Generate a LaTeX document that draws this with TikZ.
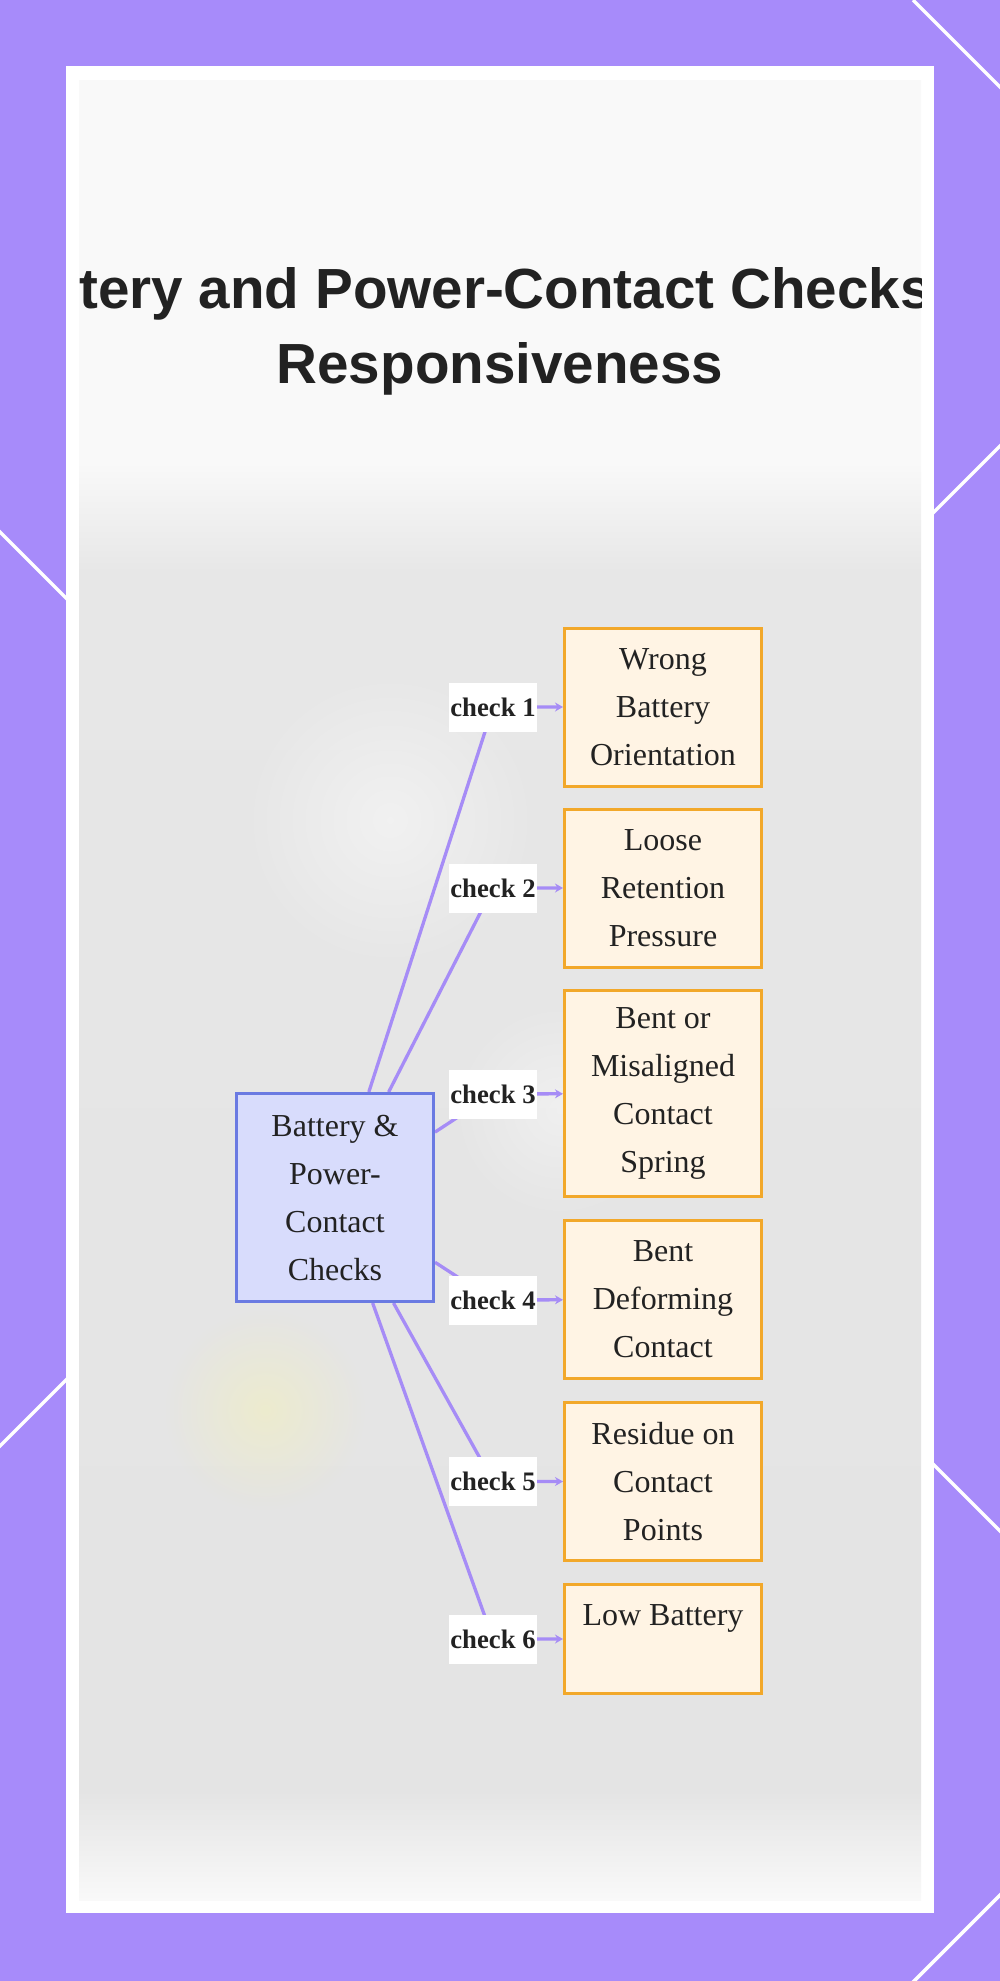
\documentclass[tikz,border=0pt]{standalone}
\usepackage{fontspec}
\setmainfont{Liberation Serif}
\newfontfamily\titlefont{Liberation Sans}
\usetikzlibrary{arrows.meta,positioning,calc,fadings}

\definecolor{frameviolet}{RGB}{167,139,250}
\definecolor{linkviolet}{RGB}{166,140,246}
\definecolor{hubfill}{RGB}{216,220,252}
\definecolor{hubedge}{RGB}{106,122,226}
\definecolor{causefill}{RGB}{255,244,228}
\definecolor{causeedge}{RGB}{242,168,42}
\definecolor{inktext}{RGB}{34,34,34}
\definecolor{fadetop}{RGB}{249,249,249}
\definecolor{fademid}{RGB}{231,231,231}
\definecolor{fadelow}{RGB}{228,228,228}

\pgfdeclareverticalshading{panelfade}{100bp}{color(0bp)=(fadetop); color(25bp)=(fadetop);
  color(28bp)=(fadelow); color(32bp)=(fadelow); color(61.5bp)=(fademid); color(64.5bp)=(fadetop);
  color(75bp)=(fadetop); color(100bp)=(fadetop)}
\tikzfading[name=softblob, inner color=transparent!0, outer color=transparent!100]

\pgfdeclarelayer{panel}
\pgfdeclarelayer{links}
\pgfsetlayers{panel,links,main}

\begin{document}
\begin{tikzpicture}[x=1pt,y=-1pt,
    cause/.style={draw=causeedge, line width=3pt, fill=causefill, text=inktext,
      minimum width=197pt, align=center, inner sep=0pt,
      font=\fontsize{32}{48}\selectfont},
    hub/.style={cause, draw=hubedge, fill=hubfill},
    checktag/.style={fill=white, text=inktext, minimum width=88pt, minimum height=49pt,
      inner sep=0pt, font=\bfseries\fontsize{26.7}{32}\selectfont},
    link/.style={draw=linkviolet, line width=3.3pt, -{Stealth[length=8pt,width=9pt]}},
    corner/.style={draw=white, line width=3.5pt},
    heading/.style={text=inktext, inner sep=0pt, font=\titlefont\bfseries\fontsize{56.6}{75}\selectfont}]
  \useasboundingbox (0,0) rectangle (1000,1981);

  % frame and panel
  \begin{pgfonlayer}{panel}
    \fill[frameviolet] (0,0) rectangle (1000,1981);
    \draw[corner] (913,0) -- (1002,89);
    \draw[corner] (1002,444) -- (900,546);
    \draw[corner] (-2,530) -- (100,632);
    \draw[corner] (100,1346) -- (-2,1448);
    \draw[corner] (900,1431) -- (1002,1533);
    \draw[corner] (1002,1893) -- (912,1983);
    \fill[white] (66,66) rectangle (934,1913);
    \shade[shading=panelfade] (79,80) rectangle (921,1900);
    \fill[yellow!40, opacity=0.3, path fading=softblob] (265,1410) circle (100);
    \fill[white, opacity=0.45, path fading=softblob] (390,820) circle (150);
    \fill[white, opacity=0.4, path fading=softblob] (560,1110) circle (110);
  \end{pgfonlayer}

  % title
  \begin{scope}
    \clip (79,80) rectangle (921,1900);
    \node[heading, anchor=base east] (headA) at (932,308) {Battery and Power-Contact Checks};
    \node[heading, anchor=base] (headB) at (500,383) {Responsiveness};
  \end{scope}

  % hub and causes
  \node[hub, minimum height=208pt] (hub) at (335,1197.5) {Battery \&\\Power-\\Contact\\Checks};

  \node[cause, minimum height=158pt] (wrong) at (663,707) {Wrong\\Battery\\Orientation};
  \node[cause, minimum height=158pt] (loose) at (663,888) {Loose\\Retention\\Pressure};
  \node[cause, minimum height=206pt] (bent) at (663,1093.5) {Bent or\\Misaligned\\Contact\\Spring};
  \node[cause, minimum height=158pt] (deform) at (663,1299.5) {Bent\\Deforming\\Contact};
  \node[cause, minimum height=158pt] (residue) at (663,1481.5) {Residue on\\Contact\\Points};
  \node[cause, minimum height=109pt] (lowbat) at (663,1639) {Low Battery\\\mbox{}};

  % edge labels
  \node[checktag] (tag1) at (493,707) {check 1};
  \node[checktag] (tag2) at (493,888) {check 2};
  \node[checktag] (tag3) at (493,1094) {check 3};
  \node[checktag] (tag4) at (493,1300) {check 4};
  \node[checktag] (tag5) at (493,1481.5) {check 5};
  \node[checktag] (tag6) at (493,1639) {check 6};

  % links
  \begin{pgfonlayer}{links}
    \foreach \i/\c in {1/wrong,2/loose,3/bent,4/deform,5/residue,6/lowbat}
      \draw[link] (hub) -- (tag\i.center) -- (\c);
  \end{pgfonlayer}
\end{tikzpicture}
\end{document}
